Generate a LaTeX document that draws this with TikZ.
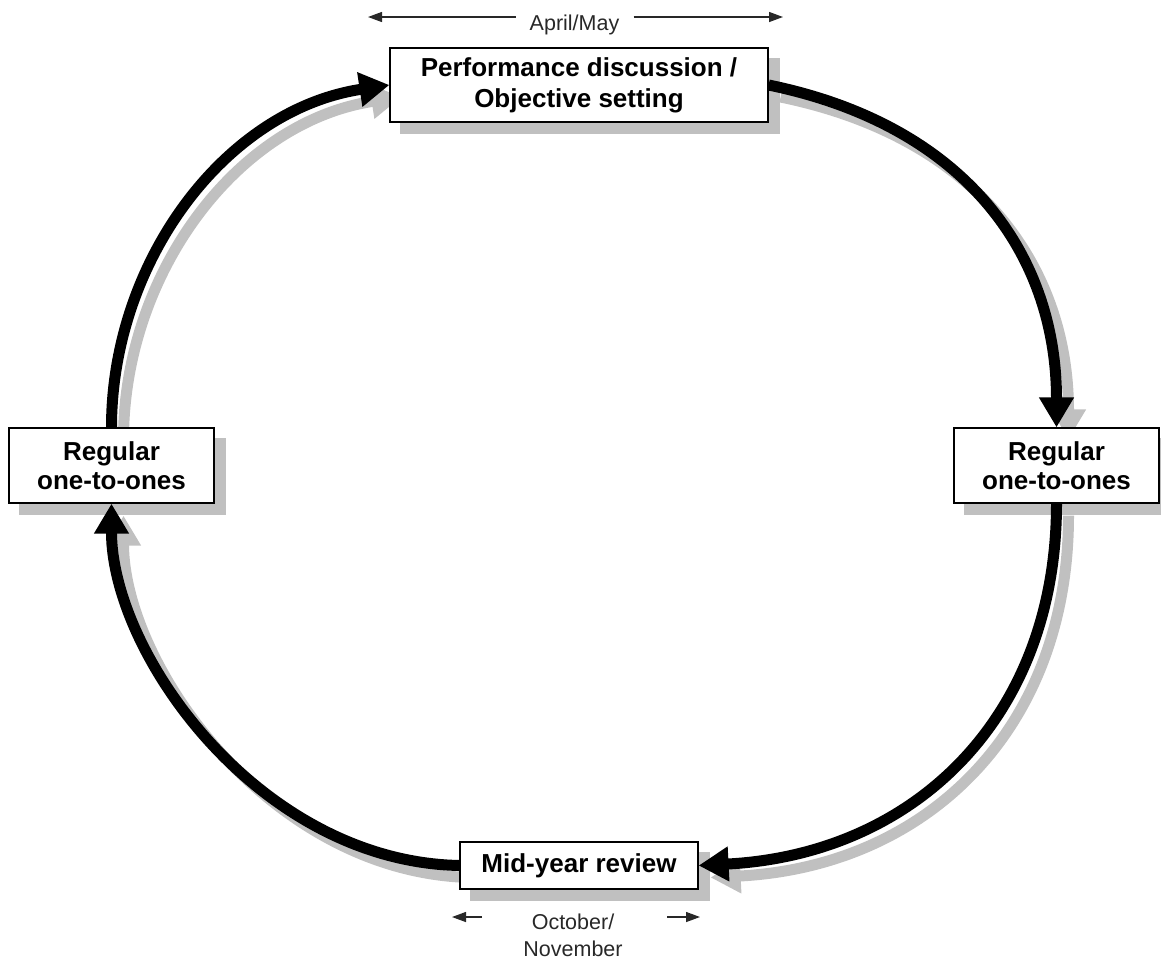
\documentclass[tikz,border=0pt]{standalone}
\usepackage{fontspec}
\setmainfont{Liberation Sans}
\usetikzlibrary{arrows.meta,calc}
\definecolor{shadowgray}{RGB}{192,192,192}
\definecolor{labelgray}{RGB}{40,40,40}
\pgfdeclarelayer{shadowlayer}
\pgfdeclarelayer{arclayer}
\pgfsetlayers{shadowlayer,arclayer,main}
% #1 = offset, #2 = style
\newcommand\drawcyclearcs[2]{%
  \draw[#2] ($(left.north)+(#1)$) .. controls ($(left.north)+(#1)+(0,-165)$) and ($(top.west)+(#1)+(-165,25)$) .. ($(top.west)+(#1)$);
  \draw[#2] ($(top.east)+(#1)$) .. controls ($(top.east)+(#1)+(195,40)$) and ($(right.north)+(#1)+(0,-175)$) .. ($(right.north)+(#1)$);
  \draw[#2] ($(right.south)+(#1)$) .. controls ($(right.south)+(#1)+(0,215)$) and ($(bottom.east)+(#1)+(215,-11)$) .. ($(bottom.east)+(#1)$);
  \draw[#2] ($(bottom.west)+(#1)$) .. controls ($(bottom.west)+(#1)+(-200,-4)$) and ($(left.south)+(#1)+(0,150)$) .. ($(left.south)+(#1)$);
}
\begin{document}
\begin{tikzpicture}[x=1pt,y=-1pt,
  box/.style={draw=black, line width=1.2pt, fill=white, align=center, inner sep=0pt},
  boxfont/.style={font=\bfseries\fontsize{26}{30}\selectfont},
  boxshadow/.style={fill=shadowgray, draw=none},
  cyclearrow/.style={line width=11pt, draw=black, -{Triangle[length=30pt,width=33pt]}},
  cycleshadow/.style={line width=11pt, draw=shadowgray, -{Triangle[length=30pt,width=33pt,fill=shadowgray]}},
  datelabel/.style={font=\fontsize{21.5}{27}\selectfont, text=labelgray, align=center},
  datearrow/.style={line width=1.3pt, draw=labelgray, -{Triangle[length=14pt,width=10pt]}}
]
\useasboundingbox (0,0) rectangle (1161,962);

% boxes
\node[box, boxfont, font=\bfseries\fontsize{26}{31}\selectfont, minimum width=378pt, minimum height=74pt] (top) at (579,85) {Performance discussion /\\Objective setting};
\node[box, boxfont, font=\bfseries\fontsize{26}{29}\selectfont, minimum width=205pt, minimum height=75pt] (left) at (111.5,465.5) {Regular\\one-to-ones};
\node[box, boxfont, font=\bfseries\fontsize{26}{29}\selectfont, minimum width=205pt, minimum height=75pt] (right) at (1056.5,465.5) {Regular\\one-to-ones};
\node[box, boxfont, minimum width=238pt, minimum height=47pt] (bottom) at (579,865.5) {Mid-year review};

% shadows
\begin{pgfonlayer}{shadowlayer}
  \drawcyclearcs{12,12}{cycleshadow}
  \foreach \n in {top,left,right,bottom}{
    \fill[boxshadow] ($(\n.south west)+(11,11)$) rectangle ($(\n.north east)+(11,11)$);
  }
\end{pgfonlayer}

% cycle arcs
\begin{pgfonlayer}{arclayer}
  \drawcyclearcs{0,0}{cyclearrow}
\end{pgfonlayer}

% date labels
\node[datelabel, inner xsep=14pt, inner ysep=0pt] (am) at (574.5,25) {April/May};
\coordinate (amL) at (368,17);
\coordinate (amR) at (783,17);
\draw[datearrow] (am.west |- amL) -- (amL);
\draw[datearrow] (am.east |- amR) -- (amR);

\node[datelabel, inner sep=0pt] (on) at (573,935) {October/\\November};
\coordinate (onLa) at (482,917);
\coordinate (onLb) at (452,917);
\coordinate (onRa) at (667,917);
\coordinate (onRb) at (700,917);
\draw[datearrow] (onLa) -- (onLb);
\draw[datearrow] (onRa) -- (onRb);
\end{tikzpicture}
\end{document}
